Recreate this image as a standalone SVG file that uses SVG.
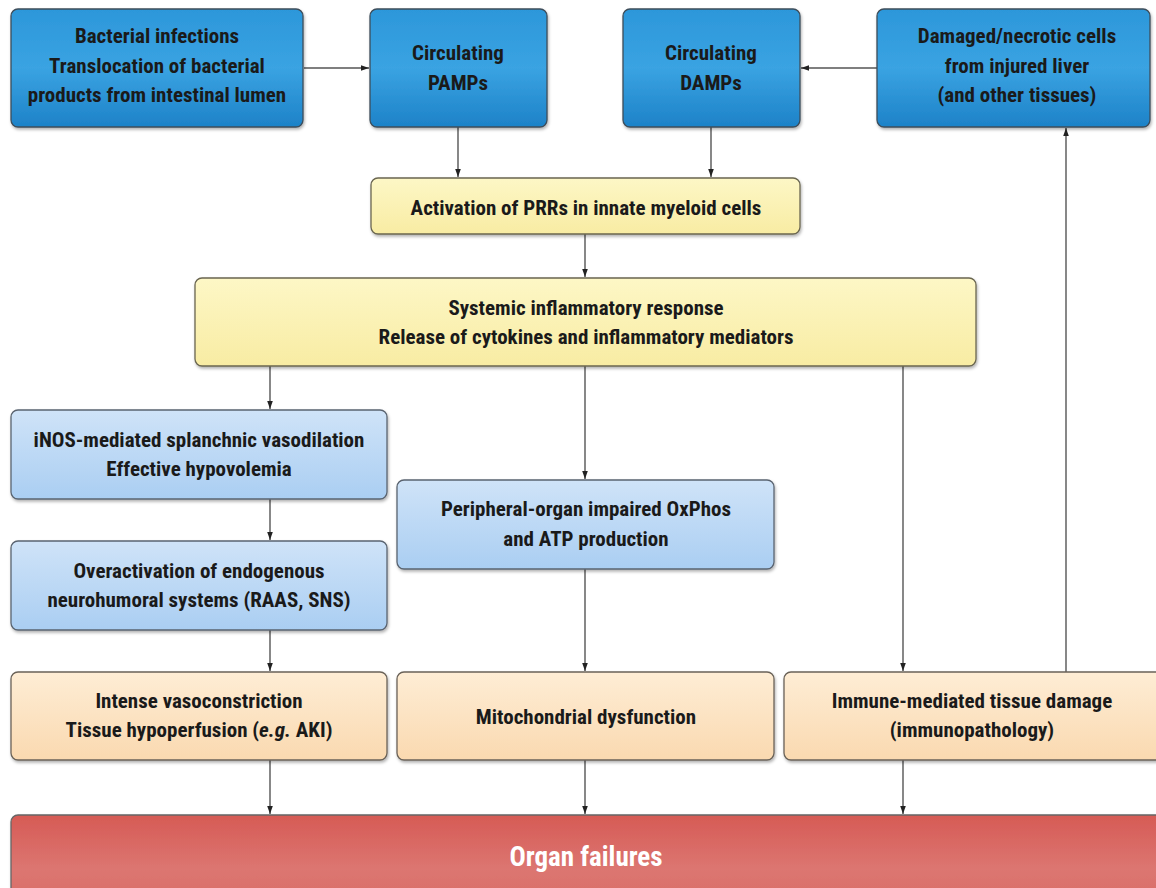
<svg xmlns="http://www.w3.org/2000/svg" width="1156" height="888" viewBox="0 0 1156 888">
<defs>
<linearGradient id="gBlue" x1="0" y1="0" x2="0" y2="1"><stop offset="0" stop-color="#2c97da"/><stop offset="0.5" stop-color="#3aa3e2"/><stop offset="1" stop-color="#1d82c8"/></linearGradient>
<linearGradient id="gLight" x1="0" y1="0" x2="0" y2="1"><stop offset="0" stop-color="#cfe3f8"/><stop offset="1" stop-color="#aacef2"/></linearGradient>
<linearGradient id="gYellow" x1="0" y1="0" x2="0" y2="1"><stop offset="0" stop-color="#fdf7c6"/><stop offset="1" stop-color="#f8eca3"/></linearGradient>
<linearGradient id="gOrange" x1="0" y1="0" x2="0" y2="1"><stop offset="0" stop-color="#feedd5"/><stop offset="1" stop-color="#fad9b0"/></linearGradient>
<linearGradient id="gRed" x1="0" y1="0" x2="0" y2="1"><stop offset="0" stop-color="#d65b55"/><stop offset="0.6" stop-color="#dc7671"/><stop offset="1" stop-color="#d96c66"/></linearGradient>
<filter id="sh" x="-5%" y="-5%" width="110%" height="120%"><feDropShadow dx="1" dy="2" stdDeviation="1.5" flood-color="#000" flood-opacity="0.3"/></filter>
<marker id="arr" viewBox="0 0 10 10" refX="10" refY="5" markerWidth="8" markerHeight="8" markerUnits="userSpaceOnUse" orient="auto"><path d="M0,1.5 L10,5 L0,8.5 z" fill="#222"/></marker>
</defs>
<style>
.box{stroke:#3d4d5a;stroke-width:1.3;filter:url(#sh)}
.b1{fill:url(#gBlue)}
.b2{fill:url(#gLight);stroke:#5a6470}
.b3{fill:url(#gYellow);stroke:#6a6650}
.b4{fill:url(#gOrange);stroke:#6a6258}
.b5{fill:url(#gRed);stroke:#666}
text{font-family:"Liberation Sans Narrow","Arial Narrow","Roboto Condensed","Liberation Sans",sans-serif;font-weight:bold;font-size:21px;fill:#1a1a1a;text-anchor:middle}
.w{fill:#ffffff;font-size:27px}
.c line{stroke:#555;stroke-width:1.4;marker-end:url(#arr)}
</style>
<rect width="1156" height="888" fill="#fff"/>
<g class="c" id="connectors">
<line x1="304" y1="68" x2="369" y2="68"/>
<line x1="877" y1="68" x2="801" y2="68"/>
<line x1="458" y1="127" x2="458" y2="177"/>
<line x1="711" y1="127" x2="711" y2="177"/>
<line x1="585" y1="234" x2="585" y2="277"/>
<line x1="270" y1="366" x2="270" y2="409"/>
<line x1="585" y1="366" x2="585" y2="479"/>
<line x1="903" y1="366" x2="903" y2="671"/>
<line x1="270" y1="499" x2="270" y2="540"/>
<line x1="270" y1="630" x2="270" y2="671"/>
<line x1="585" y1="569" x2="585" y2="671"/>
<line x1="270" y1="760" x2="270" y2="814"/>
<line x1="585" y1="760" x2="585" y2="814"/>
<line x1="903" y1="760" x2="903" y2="814"/>
<line x1="1066" y1="672" x2="1066" y2="128"/>
</g>
<g id="n-bacterial"><rect class="box b1" x="11" y="9" width="292" height="118" rx="7"/>
<text x="157" y="43">Bacterial infections</text><text x="157" y="73">Translocation of bacterial</text><text x="157" y="102">products from intestinal lumen</text></g>
<g id="n-pamps"><rect class="box b1" x="370" y="9" width="177" height="118" rx="7"/>
<text x="458" y="60">Circulating</text><text x="458" y="90">PAMPs</text></g>
<g id="n-damps"><rect class="box b1" x="623" y="9" width="177" height="118" rx="7"/>
<text x="711" y="60">Circulating</text><text x="711" y="90">DAMPs</text></g>
<g id="n-damaged"><rect class="box b1" x="877" y="9" width="273" height="118" rx="7"/>
<text x="1017" y="43">Damaged/necrotic cells</text><text x="1017" y="73">from injured liver</text><text x="1017" y="102">(and other tissues)</text></g>
<g id="n-prr"><rect class="box b3" x="371" y="178" width="429" height="56" rx="7"/>
<text x="586" y="215">Activation of PRRs in innate myeloid cells</text></g>
<g id="n-systemic"><rect class="box b3" x="195" y="278" width="781" height="88" rx="7"/>
<text x="586" y="315">Systemic inflammatory response</text><text x="586" y="344">Release of cytokines and inflammatory mediators</text></g>
<g id="n-inos"><rect class="box b2" x="11" y="410" width="376" height="89" rx="7"/>
<text x="199" y="447">iNOS-mediated splanchnic vasodilation</text><text x="199" y="476">Effective hypovolemia</text></g>
<g id="n-overact"><rect class="box b2" x="11" y="541" width="376" height="89" rx="7"/>
<text x="199" y="578">Overactivation of endogenous</text><text x="199" y="607">neurohumoral systems (RAAS, SNS)</text></g>
<g id="n-oxphos"><rect class="box b2" x="397" y="480" width="377" height="89" rx="7"/>
<text x="586" y="516">Peripheral-organ impaired OxPhos</text><text x="586" y="546">and ATP production</text></g>
<g id="n-vaso"><rect class="box b4" x="11" y="672" width="376" height="88" rx="7"/>
<text x="199" y="708">Intense vasoconstriction</text><text x="199" y="737">Tissue hypoperfusion (<tspan font-style="italic">e.g.</tspan> AKI)</text></g>
<g id="n-mito"><rect class="box b4" x="397" y="672" width="377" height="88" rx="7"/>
<text x="586" y="724">Mitochondrial dysfunction</text></g>
<g id="n-immune"><rect class="box b4" x="784" y="672" width="380" height="88" rx="7"/>
<text x="972" y="708">Immune-mediated tissue damage</text><text x="972" y="737">(immunopathology)</text></g>
<g id="n-organ"><rect class="box b5" x="11" y="815" width="1160" height="90" rx="7"/>
<text class="w" x="586" y="866">Organ failures</text></g>
</svg>
